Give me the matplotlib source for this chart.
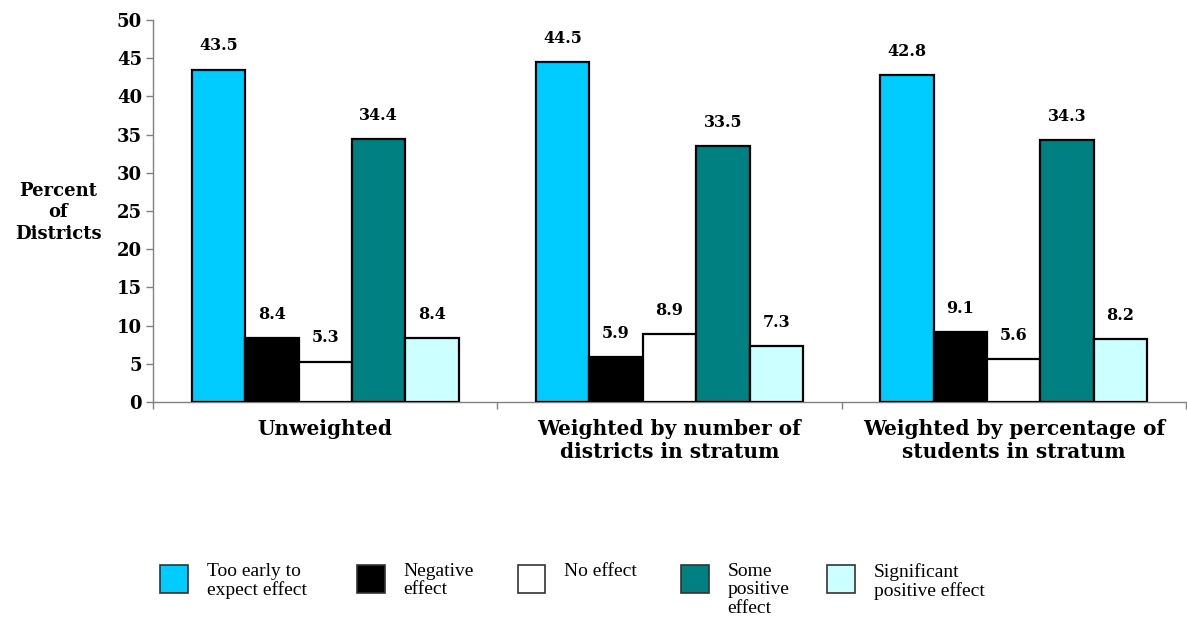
import matplotlib; matplotlib.use("Agg")
import matplotlib.pyplot as plt
import numpy as np
from matplotlib.patches import Rectangle

groups = ["Unweighted", "Weighted by number of\ndistricts in stratum",
          "Weighted by percentage of\nstudents in stratum"]
series = ["Too early to\nexpect effect", "Negative\neffect", "No effect",
          "Some\npositive\neffect", "Significant\npositive effect"]
values = [
    [43.5, 44.5, 42.8],   # too early
    [8.4, 5.9, 9.1],      # negative
    [5.3, 8.9, 5.6],      # no effect
    [34.4, 33.5, 34.3],   # some positive
    [8.4, 7.3, 8.2],      # significant positive
]
colors = ["#00CCFF", "#000000", "#FFFFFF", "#008080", "#CCFFFF"]

BOLD = dict(family="DejaVu Serif", fontweight="bold")

fig = plt.figure(figsize=(11.87, 6.2), dpi=100)
ax = fig.add_axes([0.129, 0.3516, 0.870, 0.6161])

bw = 0.155
x = np.arange(len(groups))
for i, (vals, col) in enumerate(zip(values, colors)):
    pos = x + (i - 2) * bw
    ax.bar(pos, vals, width=bw, color=col, edgecolor="black", linewidth=1.6, zorder=3)
    for p, v in zip(pos, vals):
        ax.text(p, v + 2.0, f"{v:.1f}", ha="center", va="bottom", fontsize=11.5, **BOLD)

ax.set_xlim(-0.5, len(groups) - 0.5)
ax.set_ylim(0, 50)
ax.set_yticks(np.arange(0, 51, 5))
ax.set_xticks(np.arange(len(groups) + 1) - 0.5)
ax.set_xticklabels([])
for lab in ax.get_yticklabels():
    lab.set_fontsize(13); lab.set_fontweight("bold"); lab.set_family("DejaVu Serif")
ax.tick_params(axis="y", length=5, color="#808080", width=1, pad=3)
ax.tick_params(axis="x", length=5, color="#808080", width=1)
for s in ["top", "right"]:
    ax.spines[s].set_visible(False)
for s in ["left", "bottom"]:
    ax.spines[s].set_color("#808080")
    ax.spines[s].set_linewidth(1)

for xi, g in zip(x, groups):
    ax.text(xi, -2.2, g, ha="center", va="top", fontsize=14.5, linespacing=1.2, **BOLD)

fig.text(0.049, 0.658, "Percent\nof\nDistricts", ha="center", va="center",
         fontsize=13, linespacing=1.25, **BOLD)

# legend row drawn by hand so multi-line labels hang from the top
lx = [0.135, 0.301, 0.436, 0.574, 0.697]
for xl, lab, col in zip(lx, series, colors):
    fig.add_artist(Rectangle((xl, 0.044), 0.023, 0.045, transform=fig.transFigure,
                             facecolor=col, edgecolor="#333333", linewidth=1.2))
    fig.text(xl + 0.039, 0.092, lab, ha="left", va="top", fontsize=14,
             family="Liberation Serif", linespacing=1.1)

fig.savefig("out.png", dpi=100)
